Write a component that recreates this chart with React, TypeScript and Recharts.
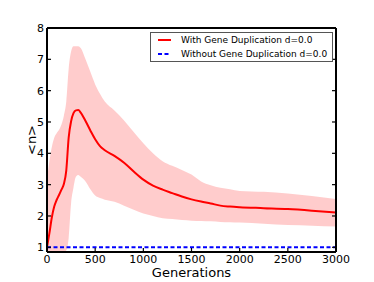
import { ComposedChart, Area, Line, XAxis, YAxis, Legend } from "recharts";

const FONT = "DejaVu Sans, sans-serif";

// generations sampled along the curve
const generations = [
  0, 25, 50, 75, 100, 125, 150, 175, 200, 225, 250, 275, 300, 325, 350, 400, 450, 500, 550, 600,
  700, 800, 900, 1000, 1100, 1200, 1300, 1400, 1500, 1600, 1700, 1800, 1900, 2000, 2250, 2500, 2750, 3000,
];
// mean <n> with gene duplication
const meanN = [
  1.0, 1.45, 1.95, 2.3, 2.51, 2.67, 2.84, 3.02, 3.45, 4.5, 5.02, 5.28, 5.37, 5.38, 5.3, 5.03, 4.73, 4.45, 4.23, 4.1,
  3.92, 3.7, 3.42, 3.16, 2.97, 2.84, 2.73, 2.62, 2.53, 2.46, 2.4, 2.33, 2.3, 2.28, 2.25, 2.22, 2.17, 2.11,
];
// shaded spread, low and high edges
const lowerN = [
  0.85, 0.85, 0.85, 0.85, 0.85, 0.85, 0.85, 0.85, 0.9, 1.3, 2.4, 2.9, 3.25, 3.31, 3.25, 3.1, 2.85, 2.65, 2.57, 2.52,
  2.45, 2.33, 2.2, 2.08, 2.0, 1.93, 1.9, 1.87, 1.85, 1.84, 1.83, 1.81, 1.8, 1.79, 1.75, 1.71, 1.69, 1.66,
];
const upperN = [
  3.15, 3.75, 4.2, 4.5, 4.64, 4.75, 4.92, 5.2, 5.65, 6.7, 7.25, 7.42, 7.42, 7.42, 7.36, 7.0, 6.6, 6.2, 5.9, 5.65,
  5.37, 5.05, 4.68, 4.32, 4.0, 3.75, 3.6, 3.47, 3.32, 3.1, 2.98, 2.9, 2.85, 2.8, 2.77, 2.72, 2.64, 2.54,
];
// without gene duplication
const flatGenerations = [0, 3000];
const flatN = [1.0, 1.0];

const xTicks = [0, 500, 1000, 1500, 2000, 2500, 3000];
const yTicks = [1, 2, 3, 4, 5, 6, 7, 8];

const data = generations.map((g, i) => ({ g, mean: meanN[i], band: [lowerN[i], upperN[i]] }));
const flatData = flatGenerations.map((g, i) => ({ g, flat: flatN[i] }));

const noLabel = () => <g />;
const frame = { stroke: "#000", strokeWidth: 2 };
const tickMark = { stroke: "#000", strokeWidth: 1.2 };

function LegendBox() {
  const row = (top: number, color: string, dashed: boolean, text: string) => (
    <div style={{ position: "absolute", left: 0, top, height: 14, width: "100%" }}>
      <svg width={24} height={14} style={{ position: "absolute", left: 6, top: 0 }}>
        <line x1={1} x2={14} y1={7} y2={7} stroke={color} strokeWidth={2} strokeDasharray={dashed ? "4 2.5" : undefined} />
      </svg>
      <span style={{ position: "absolute", left: 30, top: 0, lineHeight: "14px", whiteSpace: "nowrap" }}>{text}</span>
    </div>
  );
  return (
    <div
      style={{
        position: "relative",
        boxSizing: "border-box",
        width: 183,
        height: 30,
        border: "1px solid #555",
        background: "#fff",
        fontFamily: FONT,
        fontSize: 9,
        color: "#000",
      }}
    >
      {row(0, "#ff0000", false, "With Gene Duplication d=0.0")}
      {row(13.5, "#0000ff", true, "Without Gene Duplication d=0.0")}
    </div>
  );
}

export default function App() {
  return (
    <div style={{ position: "absolute", left: 0, top: 0, width: 374, height: 282, background: "#fff" }}>
      <ComposedChart width={374} height={282} data={data} margin={{ top: 28, right: 38, bottom: 0, left: 0 }}>
        <XAxis
          xAxisId="x"
          dataKey="g"
          type="number"
          domain={[0, 3000]}
          ticks={xTicks}
          interval={0}
          height={30}
          axisLine={frame}
          tickLine={tickMark}
          tickSize={-4}
          tickMargin={7}
          tick={{ fill: "#000", fontSize: 11, fontFamily: FONT }}
          label={{ value: "Generations", position: "insideBottom", offset: 5, fill: "#000", fontSize: 13, fontFamily: FONT }}
        />
        <XAxis
          xAxisId="top"
          type="number"
          domain={[0, 3000]}
          ticks={xTicks}
          interval={0}
          orientation="top"
          mirror
          axisLine={frame}
          tickLine={tickMark}
          tickSize={4}
          tick={noLabel}
        />
        <YAxis
          yAxisId="y"
          type="number"
          domain={[0.85, 8]}
          allowDataOverflow
          ticks={yTicks}
          interval={0}
          width={47}
          axisLine={frame}
          tickLine={tickMark}
          tickSize={-4}
          tickMargin={7}
          tick={{ fill: "#000", fontSize: 11, fontFamily: FONT }}
          label={{
            value: "<n>",
            angle: -90,
            position: "insideLeft",
            offset: 31,
            fill: "#000",
            fontSize: 13,
            fontFamily: FONT,
            style: { textAnchor: "middle" },
          }}
        />
        <YAxis
          yAxisId="right"
          type="number"
          domain={[0.85, 8]}
          allowDataOverflow
          ticks={yTicks}
          interval={0}
          orientation="right"
          mirror
          axisLine={frame}
          tickLine={tickMark}
          tickSize={4}
          tick={noLabel}
        />
        <Area
          xAxisId="x"
          yAxisId="y"
          dataKey="band"
          type="monotone"
          stroke="none"
          fill="#ff0000"
          fillOpacity={0.2}
          isAnimationActive={false}
          legendType="none"
        />
        <Line
          xAxisId="x"
          yAxisId="y"
          dataKey="mean"
          type="monotone"
          stroke="#ff0000"
          strokeWidth={2}
          dot={false}
          isAnimationActive={false}
        />
        <Line
          xAxisId="x"
          yAxisId="y"
          data={flatData}
          dataKey="flat"
          stroke="#0000ff"
          strokeWidth={2}
          strokeDasharray="4 2.5"
          dot={false}
          isAnimationActive={false}
        />
        <Legend
          layout="horizontal"
          verticalAlign="middle"
          align="center"
          content={() => <LegendBox />}
          wrapperStyle={{ position: "absolute", left: 150, top: 32, width: 183, height: 30 }}
        />
      </ComposedChart>
    </div>
  );
}
